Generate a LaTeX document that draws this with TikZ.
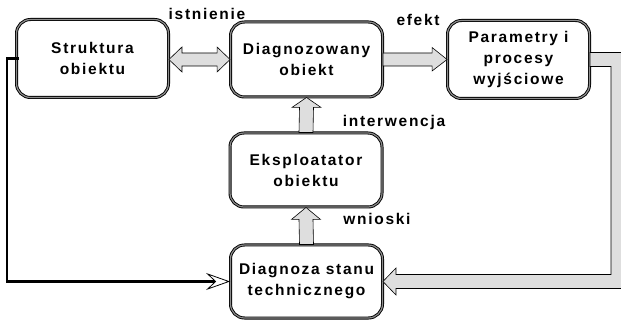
\documentclass[tikz,border=0pt]{standalone}
\usepackage{fontspec}
\setmainfont{Liberation Sans}[LetterSpace=11]
\usetikzlibrary{arrows.meta,calc}
\begin{document}
\begin{tikzpicture}[x=1pt,y=-1pt,
  txt/.style={font=\fontsize{15.5}{21}\selectfont\bfseries},
  box/.style={txt, draw=black, line width=0.9pt, double=black!45,
    double distance=1.2pt, rounded corners=14pt, align=center,
    inner sep=0pt, minimum width=152pt},
  blk/.style={draw=black, line width=0.6pt, fill=black!13, line join=miter},
  lbl/.style={txt, inner sep=0pt},
  feed/.style={line width=2.4pt, -{Stealth[open, length=24pt, width=17pt, inset=9pt, line width=0.8pt]}}]
\useasboundingbox (0,0) rectangle (621,320);

% blocks
\node[box, minimum height=78pt] (s) at (92.5,58.5) {Struktura\\obiektu};
\node[box, minimum height=75pt] (d) at (306.5,59.5) {Diagnozowany\\obiekt};
\node[box, minimum height=78pt, minimum width=142pt] (p) at (518.5,59.5) {Parametry i\\procesy\\wyjściowe};
\node[box, minimum height=74pt] (e) at (306,170) {Eksploatator\\obiektu};
\node[box, minimum height=73pt] (g) at (306.5,281.5) {Diagnoza stanu\\technicznego};

% two-way block arrow between structure and object
\draw[blk] (s.east |- d.west) -- ++(13,-12.5) -- ++(0,6) -- ($(d.west)+(-13,-6.5)$)
  -- ++(0,-6) -- (d.west) -- ++(-13,12.5) -- ++(0,-6) -- ($(s.east |- d.west)+(13,6.5)$)
  -- ++(0,6) -- cycle;

% effect arrow
\draw[blk] ($(d.east)+(0,-6.5)$) -- ($(p.west)+(-15,-6.5)$) -- ++(0,-5.5) -- (p.west)
  -- ++(-15,11.5) -- ++(0,-5) -- ($(d.east)+(0,6.5)$) -- cycle;

% intervention arrow
\draw[blk] ($(e.north)+(-7,0)$) -- ($(d.south)+(-7,10)$) -- ++(-7.5,0) -- (d.south)
  -- ++(14.5,10) -- ++(-7.5,0) -- ($(e.north)+(7,0)$) -- cycle;

% conclusions arrow
\draw[blk] ($(g.north)+(-7,0)$) -- ($(e.south)+(-7,12)$) -- ++(-7.5,0) -- (e.south)
  -- ++(14.5,12) -- ++(-7.5,0) -- ($(g.north)+(7,0)$) -- cycle;

% feedback from outputs to the diagnosis
\coordinate (fo) at (623,0);
\coordinate (fi) at (611,0);
\draw[blk] ($(p.east)+(0,-7)$) -- (fo |- {$(p.east)+(0,-7)$}) -- (fo |- {$(g.east)+(0,7)$})
  -- ($(g.east)+(13,7)$) -- ++(0,6.5) -- (g.east) -- ++(13,-13.5) -- ++(0,6.5)
  -- (fi |- {$(g.east)+(0,-7)$}) -- (fi |- {$(p.east)+(0,7)$}) -- ($(p.east)+(0,7)$) -- cycle;

% structure feeds the diagnosis
\draw[feed] ($(s.west)+(3,0)$) -- ++(-12,0) |- (g.west);

% labels
\node[lbl] (l1) at (207,14) {istnienie};
\node[lbl] (l2) at (418,20) {efekt};
\node[lbl] (l3) at (394,122) {interwencja};
\node[lbl] (l4) at (377,219) {wnioski};
\end{tikzpicture}
\end{document}
